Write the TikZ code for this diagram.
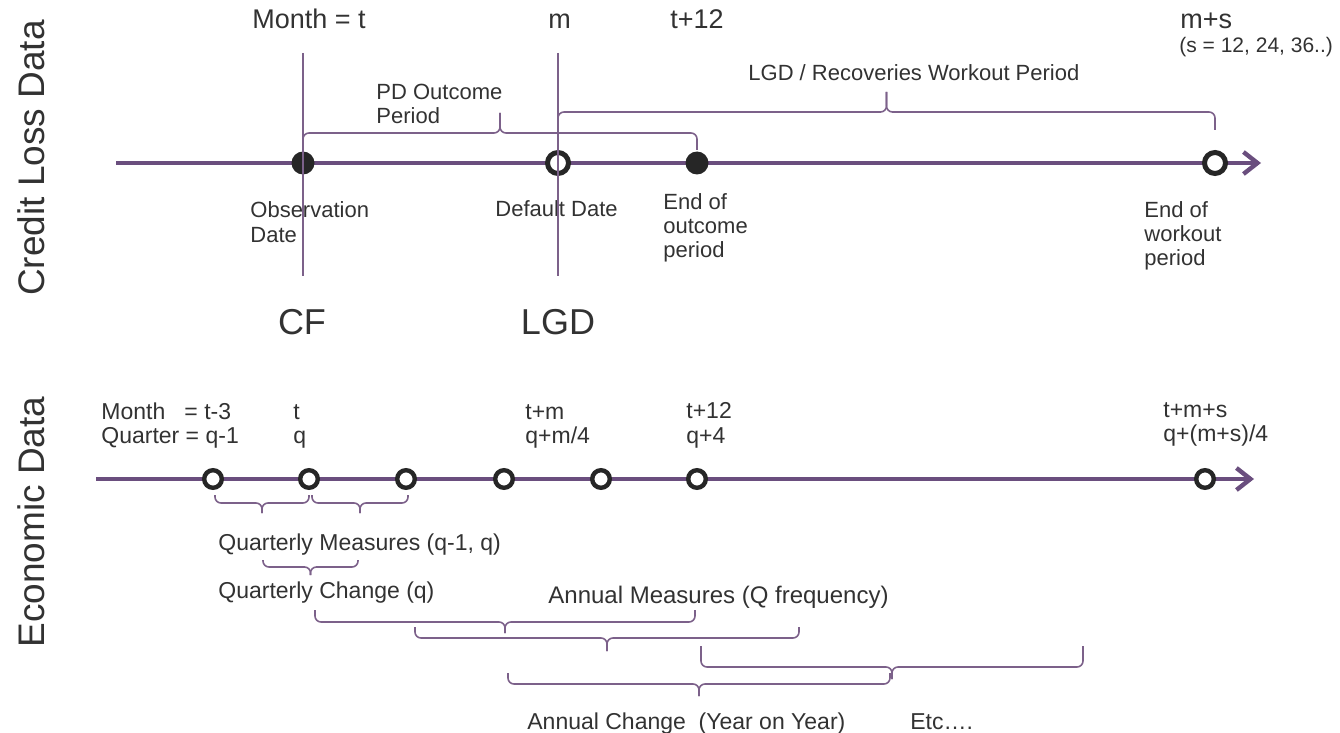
\documentclass[tikz,border=0pt]{standalone}
\usepackage{fontspec}
\setmainfont{Liberation Sans}
\usetikzlibrary{arrows.meta,positioning}

\definecolor{linepurple}{RGB}{106,78,126}
\definecolor{bracepurple}{RGB}{124,97,138}
\definecolor{dotgray}{RGB}{38,38,38}
\definecolor{textgray}{RGB}{50,50,50}

% brace: x1, x2, y of the ends, y of the flat part, y of the tip
\newcommand{\pbrace}[5]{%
  \draw [bracket] (#1,#3) -- (#1,#4) -- ({(#1+#2)/2},#4) -- ({(#1+#2)/2},#5);
  \draw [bracket] ({(#1+#2)/2},#5) -- ({(#1+#2)/2},#4) -- (#2,#4) -- (#2,#3);
}

\begin{document}
\begin{tikzpicture}
    [
      x=0.5pt, y=-0.5pt,
      timeline/.style={->,>={Straight Barb[length=7pt,width=11pt]},line width=2.2pt,draw=linepurple},
      fulldot/.style={circle,fill=dotgray,inner sep=0pt,minimum size=11.5pt},
      opendot/.style={circle,draw=dotgray,fill=white,line width=2.5pt,inner sep=0pt,minimum size=10.5pt},
      smalldot/.style={circle,draw=dotgray,fill=white,line width=2.2pt,inner sep=0pt,minimum size=8.8pt},
      bracket/.style={draw=bracepurple,line width=0.8pt,rounded corners=3pt},
      marker/.style={draw=bracepurple,line width=0.8pt},
      lbl/.style={inner sep=0pt,text=textgray,align=left,font=\fontsize{11}{12}\selectfont},
      ecolbl/.style={inner sep=0pt,text=textgray,align=left,font=\fontsize{11.5}{12.3}\selectfont},
      toplbl/.style={inner sep=0pt,text=textgray,font=\fontsize{13.5}{16}\selectfont},
      biglbl/.style={inner sep=0pt,text=textgray,font=\fontsize{18}{22}\selectfont},
      sidelbl/.style={inner sep=0pt,text=textgray,rotate=90,font=\fontsize{18.5}{22}\selectfont},
    ]

    \useasboundingbox (0,0) rectangle (1340,733);

    % credit loss data
    \node (credit) [sidelbl] at (31,158) {Credit Loss Data};

    \coordinate (top-start) at (116,163);
    \coordinate (top-end) at (1261,163);
    \draw [timeline] (top-start) -- (top-end);

    \node (obs) [fulldot] at (303,163) {};
    \node (dflt) [opendot] at (558,163) {};
    \node (end-out) [fulldot] at (697,163) {};
    \node (end-work) [opendot] at (1215,163) {};

    \pbrace{303}{697}{150}{133}{113}
    \pbrace{558}{1215}{130}{112}{92}

    \node (month-t) [toplbl,anchor=base west] at (252,29) {Month = t};
    \node (month-m) [toplbl,anchor=base west] at (548,29) {m};
    \node (month-t12) [toplbl,anchor=base west] at (670,29) {t+12};
    \node (month-ms) [toplbl,anchor=base west] at (1180,29) {m+s};
    \node (s-values) [lbl,font=\fontsize{10.5}{12}\selectfont,anchor=base west] at (1179,53) {(s = 12, 24, 36..)};

    \node (pd-period) [lbl,anchor=north west] at (376,84) {PD Outcome\\Period};
    \node (lgd-period) [lbl,anchor=base west] at (748,81) {LGD / Recoveries Workout Period};

    \node (obs-lbl) [lbl,font=\fontsize{11}{12.5}\selectfont,anchor=north west] at (250,201) {Observation\\Date};
    \node (dflt-lbl) [lbl,anchor=base west] at (495,217) {Default Date};
    \node (end-out-lbl) [lbl,anchor=north west] at (663,193) {End of\\outcome\\period};
    \node (end-work-lbl) [lbl,anchor=north west] at (1144,201) {End of\\workout\\period};

    \node (cf) [biglbl,anchor=base] at (302,334) {CF};
    \node (lgd) [biglbl,anchor=base] at (558,334) {LGD};

    \coordinate (cf-top) at (303,53);
    \coordinate (cf-bot) at (303,276);
    \coordinate (lgd-top) at (558,53);
    \coordinate (lgd-bot) at (558,276);
    \draw [marker] (cf-top) -- (cf-bot);
    \draw [marker] (lgd-top) -- (lgd-bot);

    % economic data
    \node (economic) [sidelbl] at (31,522) {Economic Data};

    \coordinate (eco-start) at (96,479);
    \coordinate (eco-end) at (1254,479);
    \draw [timeline] (eco-start) -- (eco-end);

    \node (q-1) [smalldot] at (213,479) {};
    \node (q-0) [smalldot] at (309,479) {};
    \node (q-a) [smalldot] at (406,479) {};
    \node (q-b) [smalldot] at (504,479) {};
    \node (q-c) [smalldot] at (601,479) {};
    \node (q-4) [smalldot] at (697,479) {};
    \node (q-ms) [smalldot] at (1205,479) {};

    \node (lbl-q-1) [ecolbl,anchor=north west] at (101,402) {Month~~~= t-3\\Quarter = q-1};
    \node (lbl-q-0) [ecolbl,anchor=north west] at (293,404) {t\\q};
    \node (lbl-q-b) [ecolbl,anchor=north west] at (525,404) {t+m\\q+m/4};
    \node (lbl-q-4) [ecolbl,anchor=north west] at (686,402) {t+12\\q+4};
    \node (lbl-q-ms) [ecolbl,anchor=north west] at (1163,402) {t+m+s\\q+(m+s)/4};

    \pbrace{215}{309}{495}{503}{513}
    \pbrace{312}{408}{495}{503}{513}
    \node (q-measures) [ecolbl,anchor=base west] at (218,550) {Quarterly Measures (q-1, q)};
    \pbrace{263}{358}{560}{567}{575}
    \node (q-change) [ecolbl,anchor=base west] at (218,598) {Quarterly Change (q)};

    \node (a-measures) [ecolbl,font=\fontsize{12}{14}\selectfont,anchor=base west] at (548,603) {Annual Measures (Q frequency)};
    \pbrace{315}{695}{610}{622}{633}
    \pbrace{415}{799}{627}{638}{651}
    \pbrace{701}{1083}{646}{667}{679}
    \pbrace{508}{890}{673}{684}{696}
    \node (a-change) [ecolbl,anchor=base west] at (527,729) {Annual Change~ (Year on Year)};
    \node (etc) [ecolbl,anchor=base west] at (910,729) {Etc….};

  \end{tikzpicture}
\end{document}
